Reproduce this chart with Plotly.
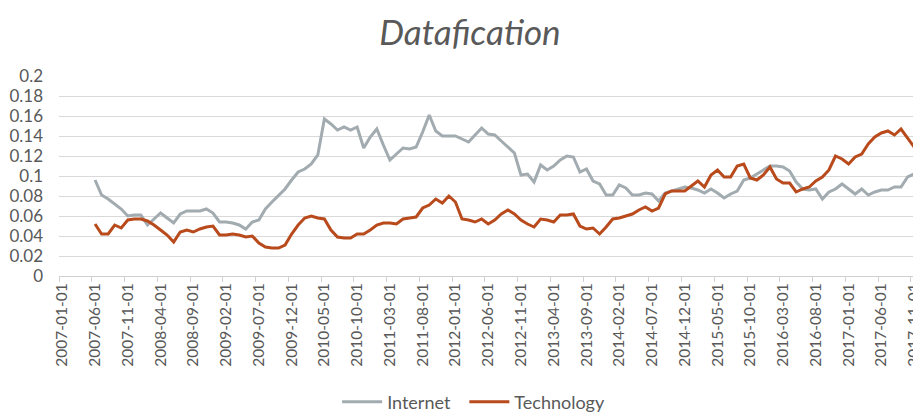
import plotly.graph_objects as go
import pandas as pd

# Monthly categories 2007-01-01 .. 2017-12-01
dates = [d.strftime("%Y-%m-%d") for d in pd.date_range("2007-01-01", "2017-12-01", freq="MS")]

# Series start at 2007-06-01 (first five months empty)
internet = [None] * 5 + [
    0.096, 0.081, 0.077, 0.072, 0.067, 0.060, 0.061, 0.061, 0.051, 0.057,
    0.063, 0.058, 0.053, 0.062, 0.065, 0.065, 0.065, 0.067, 0.063, 0.054,
    0.054, 0.053, 0.051, 0.047, 0.054, 0.056, 0.067, 0.074, 0.081, 0.087,
    0.096, 0.104, 0.107, 0.112, 0.121, 0.157, 0.152, 0.146, 0.149, 0.146,
    0.149, 0.128, 0.139, 0.147, 0.131, 0.116, 0.122, 0.128, 0.127, 0.129,
    0.144, 0.161, 0.145, 0.140, 0.140, 0.140, 0.137, 0.134, 0.141, 0.148,
    0.142, 0.141, 0.135, 0.129, 0.123, 0.101, 0.102, 0.094, 0.111, 0.106,
    0.110, 0.116, 0.120, 0.119, 0.104, 0.107, 0.095, 0.092, 0.081, 0.081,
    0.091, 0.088, 0.081, 0.081, 0.083, 0.082, 0.075, 0.083, 0.085, 0.087,
    0.089, 0.088, 0.086, 0.083, 0.087, 0.083, 0.078, 0.082, 0.085, 0.096,
    0.098, 0.102, 0.106, 0.110, 0.110, 0.109, 0.105, 0.094, 0.087, 0.086,
    0.087, 0.077, 0.084, 0.087, 0.092, 0.087, 0.082, 0.087, 0.081, 0.084,
    0.086, 0.086, 0.089, 0.089, 0.099, 0.102, 0.098,
]

technology = [None] * 5 + [
    0.052, 0.042, 0.042, 0.051, 0.048, 0.056, 0.057, 0.057, 0.055, 0.051,
    0.046, 0.041, 0.034, 0.044, 0.046, 0.044, 0.047, 0.049, 0.050, 0.041,
    0.041, 0.042, 0.041, 0.039, 0.040, 0.033, 0.029, 0.028, 0.028, 0.031,
    0.042, 0.051, 0.058, 0.060, 0.058, 0.057, 0.046, 0.039, 0.038, 0.038,
    0.042, 0.042, 0.046, 0.051, 0.053, 0.053, 0.052, 0.057, 0.058, 0.059,
    0.068, 0.071, 0.077, 0.073, 0.080, 0.074, 0.057, 0.056, 0.054, 0.057,
    0.052, 0.056, 0.062, 0.066, 0.062, 0.056, 0.052, 0.049, 0.057, 0.056,
    0.054, 0.061, 0.061, 0.062, 0.050, 0.047, 0.048, 0.042, 0.049, 0.057,
    0.058, 0.060, 0.062, 0.066, 0.069, 0.065, 0.068, 0.082, 0.085, 0.085,
    0.085, 0.090, 0.095, 0.089, 0.101, 0.106, 0.099, 0.099, 0.110, 0.112,
    0.098, 0.096, 0.101, 0.109, 0.097, 0.093, 0.093, 0.084, 0.087, 0.089,
    0.095, 0.099, 0.106, 0.120, 0.117, 0.112, 0.119, 0.122, 0.132, 0.139,
    0.143, 0.145, 0.141, 0.147, 0.138, 0.129, 0.124,
]

x_ticks = dates[::5]
y_ticks = [0, 0.02, 0.04, 0.06, 0.08, 0.1, 0.12, 0.14, 0.16, 0.18, 0.2]
y_ticktext = ["0", "0.02", "0.04", "0.06", "0.08", "0.1", "0.12", "0.14", "0.16", "0.18", "0.2"]

FONT = "Lato, 'Open Sans', sans-serif"
TXT = "#595959"

fig = go.Figure()
fig.add_trace(go.Scatter(x=dates, y=internet, mode="lines", name="Internet\u2002",
                         line=dict(color="#A2ABAF", width=3)))
fig.add_trace(go.Scatter(x=dates, y=technology, mode="lines", name="Technology",
                         line=dict(color="#B84A1C", width=3)))

# The page has an 8px body margin, so the figure is sized to end at the window edge.
fig.update_layout(
    width=913, height=405,
    margin=dict(l=51, r=0, t=68, b=137, autoexpand=False),
    paper_bgcolor="white", plot_bgcolor="white",
    title=dict(text="<i>Datafication</i>", x=0.506, xanchor="center",
               xref="container", yref="container",
               y=0.94, yanchor="middle",
               font=dict(family=FONT, size=35, color=TXT)),
    legend=dict(orientation="h", xref="container", yref="container",
                x=0.51, xanchor="center", y=0.027, yanchor="middle",
                font=dict(family=FONT, size=18, color=TXT),
                itemwidth=40, tracegroupgap=0),
    showlegend=True,
)
fig.update_xaxes(
    type="category", categoryorder="array", categoryarray=dates,
    range=[-0.5, 131.05], automargin=False,
    tickmode="array", tickvals=x_ticks, ticktext=x_ticks,
    tickangle=-90, tickson="boundaries",
    ticks="outside", ticklen=5, tickcolor="#D0D0D0",
    showline=True, linecolor="#D0D0D0", linewidth=1,
    showgrid=False, zeroline=False,
    tickfont=dict(family=FONT, size=15.5, color=TXT),
)
fig.update_yaxes(
    range=[0, 0.2], tickmode="array", tickvals=y_ticks, ticktext=y_ticktext,
    automargin=False,
    showgrid=True, gridcolor="#D9D9D9", gridwidth=1,
    zeroline=False, showline=False, ticks="", ticklabelstandoff=15,
    tickfont=dict(family=FONT, size=17, color=TXT),
)

fig.write_html("out.html")
